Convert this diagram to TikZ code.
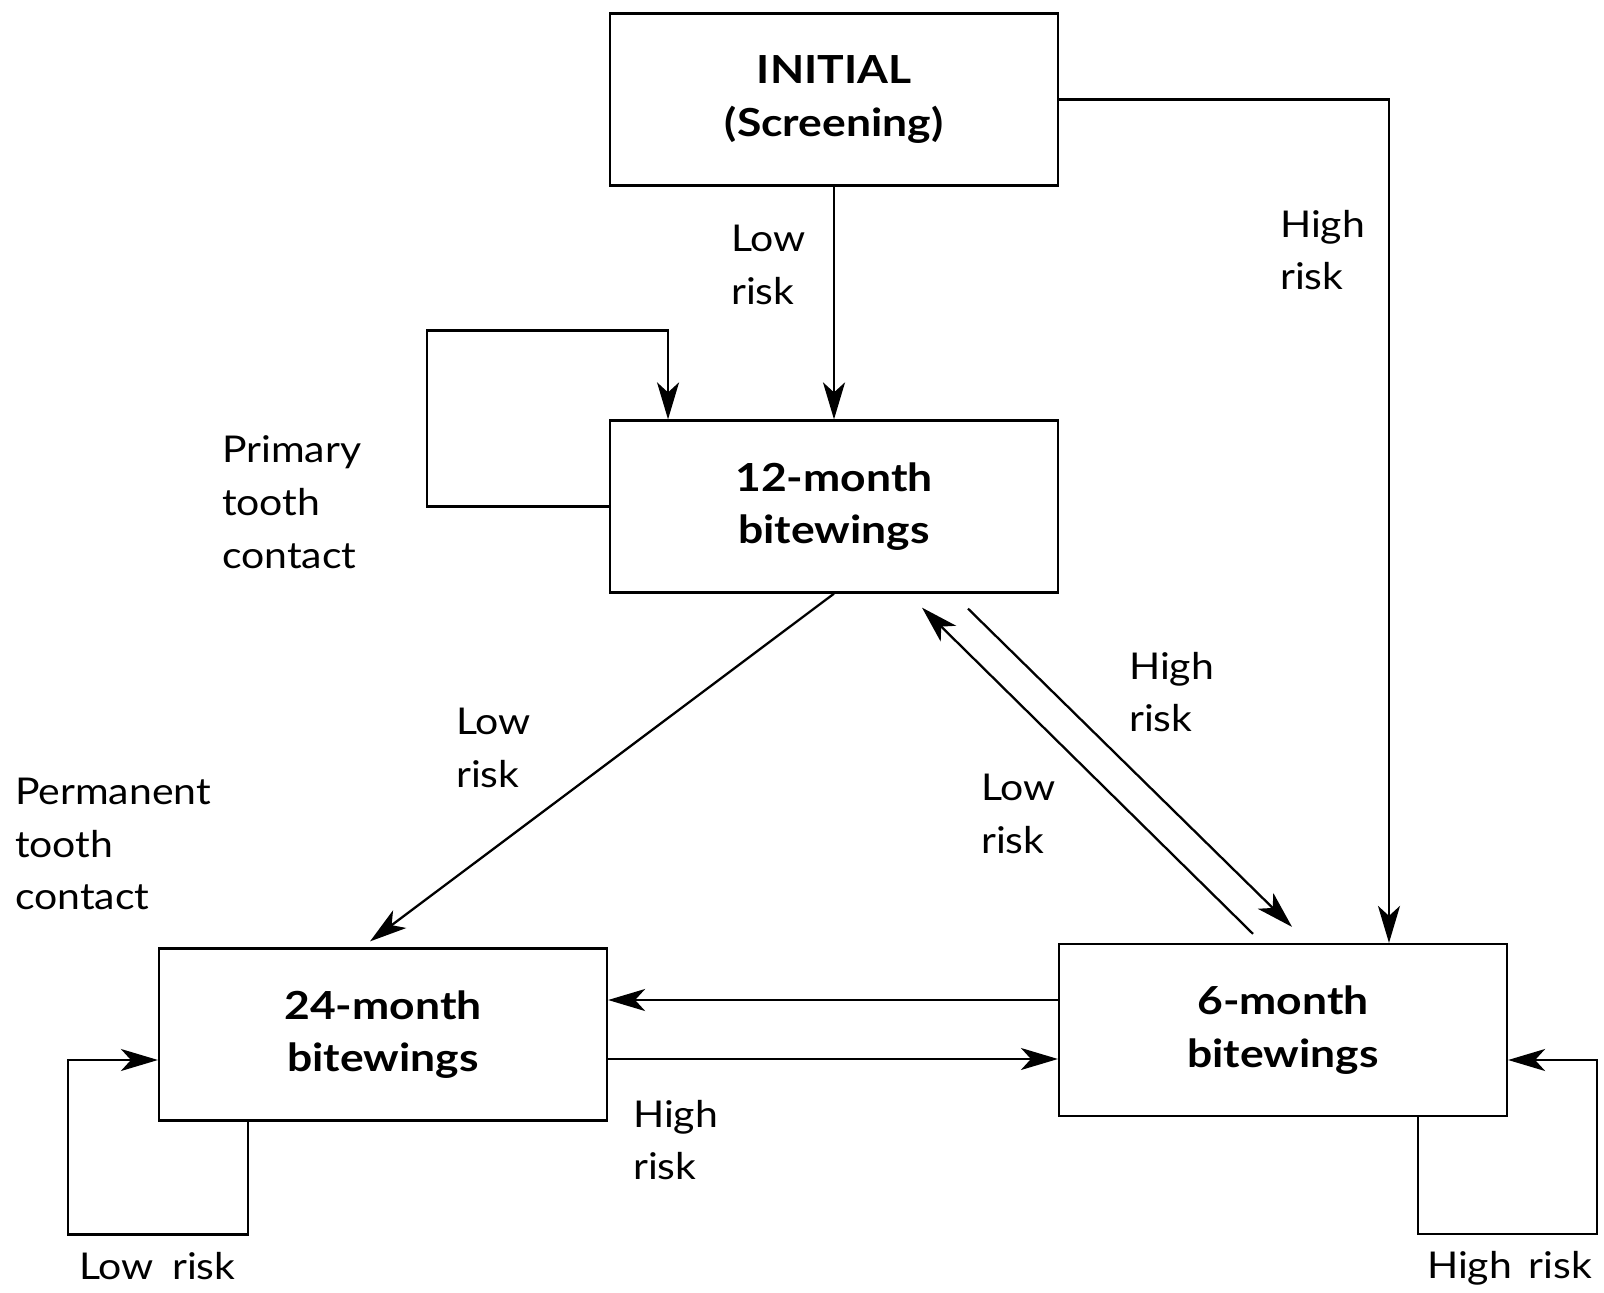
\documentclass[tikz,border=0pt]{standalone}
\usepackage{fontspec}
\setmainfont{Lato}[FakeStretch=1.11, BoldFeatures={FakeStretch=1.15}]
\usetikzlibrary{arrows.meta}
\begin{document}
\begin{tikzpicture}[x=0.02cm, y=-0.02cm, line width=1.3pt,
    stage/.style={draw, rectangle, minimum width=8.96cm, minimum height=3.44cm,
      align=center, font=\bfseries\fontsize{22}{30}\selectfont},
    lbl/.style={anchor=west, align=left, inner sep=0pt, font=\fontsize{21}{30}\selectfont},
    >={Stealth[length=0.74cm, width=0.44cm, inset=0.2cm]}]
    \useasboundingbox (0,0) rectangle (1604,1293);
    \node[stage] (initial) at (834, 99.5) {INITIAL\\(Screening)};
    \node[stage] (m12) at (834, 506.5) {12-month\\bitewings};
    \node[stage] (m24) at (383, 1034.5) {24-month\\bitewings};
    \node[stage] (m6) at (1283, 1030) {6-month\\bitewings};
    \draw [->] (initial) -- (m12);
    \draw [->] (initial.east) -| ([xshift=2.12cm]m6.north);
    \draw [->] (m12.west) -- ++(-182,0) |- ([xshift=-3.32cm, yshift=1.78cm]m12.north) -- ([xshift=-3.32cm]m12.north);
    \draw [->] (m12.south) -- ([xshift=-0.26cm, yshift=0.12cm]m24.north);
    \draw [->] ([xshift=2.68cm, yshift=-0.3cm]m12.south) -- ([xshift=0.18cm, yshift=0.32cm]m6.north);
    \draw [->] ([xshift=-0.6cm, yshift=0.18cm]m6.north) -- ([xshift=1.76cm, yshift=-0.28cm]m12.south);
    \draw [->] ([yshift=0.6cm]m6.west) -- ([yshift=0.6cm]m6.west -| m24.east);
    \draw [->] ([yshift=-0.49cm]m24.east) -- ([yshift=-0.49cm]m24.east -| m6.west);
    \draw [->] ([xshift=-2.7cm]m24.south) -- ++(0,113) -- ++(-180,0) |- ([yshift=-0.51cm]m24.west);
    \draw [->] ([xshift=2.7cm]m6.south) -- ++(0,117) -- ++(179,0) |- ([yshift=-0.6cm]m6.east);
    \node[lbl] (lowA) at (730, 265) {Low\\risk};
    \node[lbl] (highA) at (1279, 250) {High\\risk};
    \node[lbl] (primary) at (221, 502) {Primary\\tooth\\contact};
    \node[lbl] (lowB) at (455, 748) {Low\\risk};
    \node[lbl] (permanent) at (14, 844) {Permanent\\tooth\\contact};
    \node[lbl] (highB) at (1128, 692) {High\\risk};
    \node[lbl] (lowC) at (980, 814) {Low\\risk};
    \node[lbl] (highC) at (632, 1140) {High\\risk};
    \node[lbl] (lowD) at (78, 1266) {Low\hspace{0.5em}risk};
    \node[lbl] (highD) at (1426, 1268) {High\hspace{0.45em}risk};
\end{tikzpicture}
\end{document}
